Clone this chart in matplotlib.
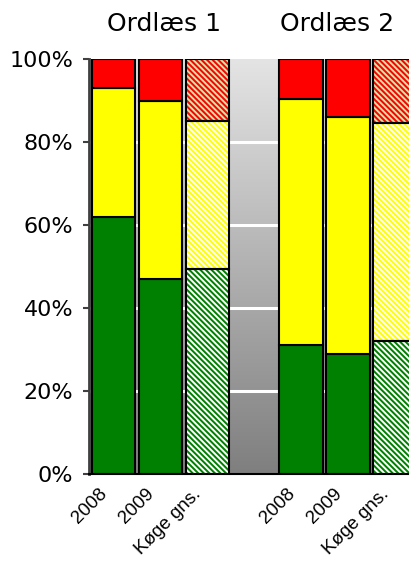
import numpy as np
import matplotlib
matplotlib.use("Agg")
import matplotlib.pyplot as plt
from matplotlib.colors import LinearSegmentedColormap
from matplotlib.transforms import ScaledTranslation

# ----------------------------
# DATA (percent of pupils)
# ----------------------------
labels = ["2008", "2009", "Køge gns.", "", "2008", "2009", "Køge gns."]
green = [62, 47, 49.5, 0, 31, 29, 32]
yellow = [31, 43, 35.5, 0, 59.5, 57, 52.5]
red = [100 - g - y if g + y > 0 else 0 for g, y in zip(green, yellow)]
hatched = [False, False, True, False, False, False, True]
titles = ["Ordlæs 1", "Ordlæs 2"]
yticks = [0, 20, 40, 60, 80, 100]

plt.rcParams["hatch.linewidth"] = 1.4

fig = plt.figure(figsize=(4.09, 5.63), dpi=100)
ax = fig.add_axes([0.218, 0.158, 0.782, 0.737])

x = np.arange(len(labels))
xlim = (-0.52, 6.30)
ax.set_xlim(*xlim)
ax.set_ylim(0, 100)

# gradient background of the plot area
cmap = LinearSegmentedColormap.from_list("bg", ["#7f7f7f", "#e4e4e4"])
grad = np.linspace(0, 1, 256).reshape(-1, 1)
ax.imshow(grad, cmap=cmap, origin="lower", aspect="auto",
          extent=(xlim[0], xlim[1], 0, 100), zorder=0)

for yv in yticks[1:-1]:
    ax.axhline(yv, color="white", lw=2.2, zorder=0.5)

w = 0.93
for i in range(len(labels)):
    if green[i] == 0:
        continue
    parts = [(0, green[i], "#008000", "white"),
             (green[i], yellow[i], "#ffff00", "white"),
             (green[i] + yellow[i], red[i], "#ff0000", "#d0e4a8")]
    for base, h, fc, hc in parts:
        if hatched[i]:
            ax.bar(x[i], h, w, bottom=base, color=fc, edgecolor=hc,
                   hatch="\\" * 6, linewidth=0, zorder=2)
            ax.bar(x[i], h, w, bottom=base, fill=False, edgecolor="black",
                   linewidth=1.5, zorder=3)
        else:
            ax.bar(x[i], h, w, bottom=base, color=fc, edgecolor="black",
                   linewidth=1.5, zorder=2)

# titles above the groups
ax.text(1.08, 108.4, titles[0], ha="center", va="center", fontsize=18,
        family="DejaVu Sans")
ax.text(4.77, 108.4, titles[1], ha="center", va="center", fontsize=18,
        family="DejaVu Sans")

ax.set_yticks(yticks)
ax.set_yticklabels([f"{v}%" for v in yticks], fontsize=16, family="DejaVu Sans")
ax.set_xticks(x)
ax.set_xticklabels(labels, rotation=45, ha="right", va="top",
                   rotation_mode="anchor", fontsize=13.5, family="Liberation Sans")
ax.tick_params(axis="x", length=0, pad=8)
ax.tick_params(axis="y", length=4, width=1.5, color="#404040", pad=7.5)
shift = ScaledTranslation(-0.15, 0, fig.dpi_scale_trans)
for lab in ax.get_xticklabels():
    lab.set_transform(lab.get_transform() + shift)

for side in ["top", "right"]:
    ax.spines[side].set_visible(False)
ax.spines["left"].set_color("#404040")
ax.spines["left"].set_linewidth(2)
ax.spines["bottom"].set_color("black")
ax.spines["bottom"].set_linewidth(1.5)

fig.savefig("out.png", dpi=100)
